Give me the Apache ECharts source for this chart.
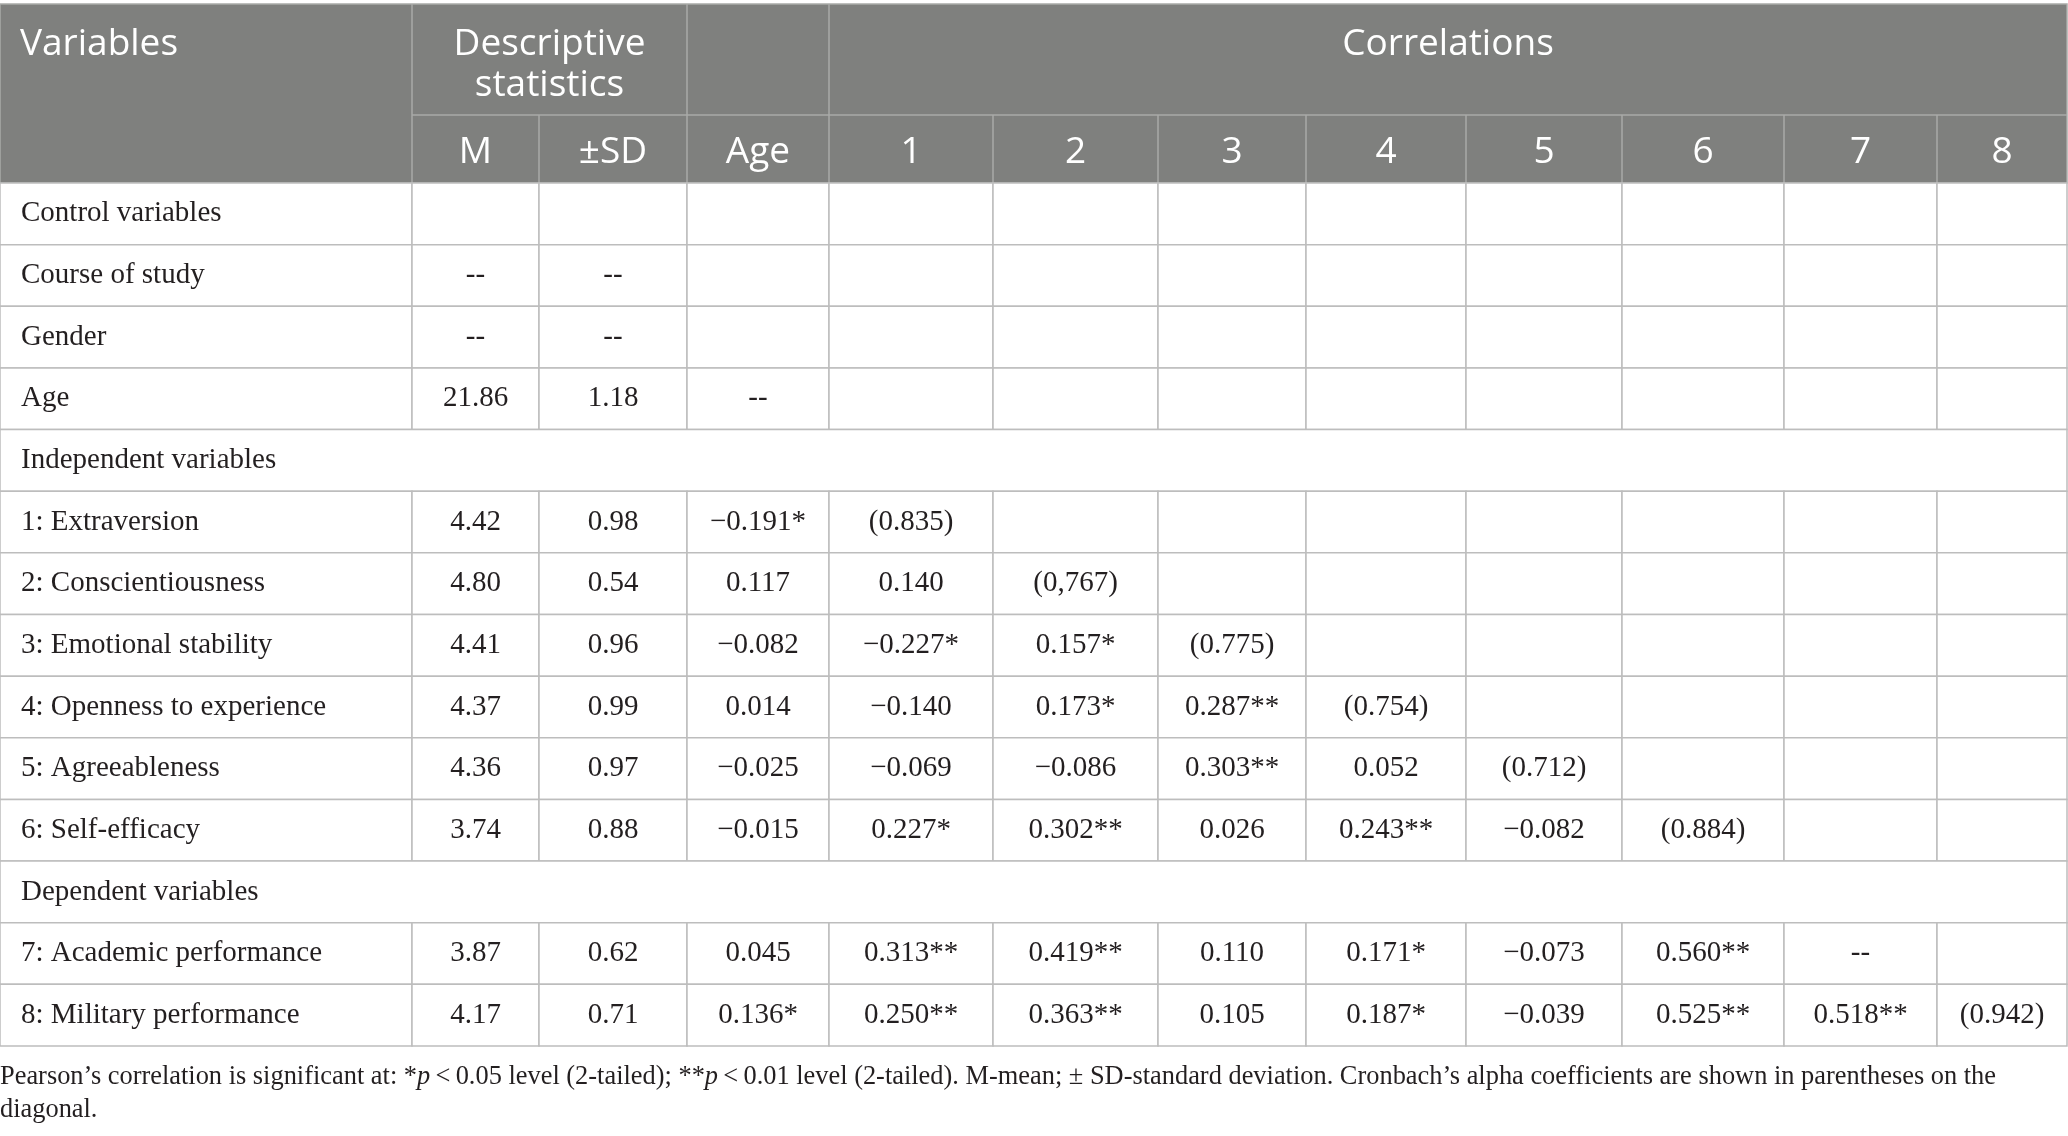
<!DOCTYPE html>
<html>
<head>
<meta charset="utf-8">
<title>Descriptive statistics and correlations</title>
<script src="https://cdn.jsdelivr.net/npm/echarts@6/dist/echarts.min.js"></script>
<style>
html, body { margin: 0; padding: 0; background: #fff; }
#main { width: 2068px; height: 1136px; }
</style>
</head>
<body>
<div id="main"></div>
<script>
// 表格数据
var rowNames = ['Control variables', 'Course of study', 'Gender', 'Age', 'Independent variables',
    '1: Extraversion', '2: Conscientiousness', '3: Emotional stability', '4: Openness to experience',
    '5: Agreeableness', '6: Self-efficacy', 'Dependent variables', '7: Academic performance',
    '8: Military performance'];
var sectionRows = ['Independent variables', 'Dependent variables'];
var meanVals = ['', '--', '--', '21.86', '', '4.42', '4.80', '4.41', '4.37', '4.36', '3.74', '', '3.87', '4.17'];
var sdVals = ['', '--', '--', '1.18', '', '0.98', '0.54', '0.96', '0.99', '0.97', '0.88', '', '0.62', '0.71'];
var ageCorr = ['', '', '', '--', '', '\u22120.191*', '0.117', '\u22120.082', '0.014', '\u22120.025', '\u22120.015', '', '0.045', '0.136*'];
var corrRows = [
    [], [], [], [], [],
    ['(0.835)'],
    ['0.140', '(0,767)'],
    ['\u22120.227*', '0.157*', '(0.775)'],
    ['\u22120.140', '0.173*', '0.287**', '(0.754)'],
    ['\u22120.069', '\u22120.086', '0.303**', '0.052', '(0.712)'],
    ['0.227*', '0.302**', '0.026', '0.243**', '\u22120.082', '(0.884)'],
    [],
    ['0.313**', '0.419**', '0.110', '0.171*', '\u22120.073', '0.560**', '--'],
    ['0.250**', '0.363**', '0.105', '0.187*', '\u22120.039', '0.525**', '0.518**', '(0.942)']
];
var groupHeads = ['Variables', 'Descriptive\nstatistics', 'Correlations'];
var subHeads = ['M', '\u00b1SD', 'Age', '1', '2', '3', '4', '5', '6', '7', '8'];
var footNote = 'Pearson\u2019s correlation is significant at: *{i|p}\u2009<\u20090.05 level (2-tailed); **{i|p}\u2009<\u20090.01 level (2-tailed). M-mean; \u00b1 SD-standard deviation. Cronbach\u2019s alpha coefficients are shown in parentheses on the\ndiagonal.';

// 版式
var colEdges = [0, 412, 539, 687, 829, 993, 1158, 1306, 1466, 1622, 1784, 1937, 2067];
var tableW = 2067;
var headH = 179, headSplit = 111;
var headBg = '#7f807e', headLine = '#a9aaa8', bodyLine = '#bdbdbd', ink = '#231f20';
var sansFont = '37px "Open Sans"';
var serifFont = '29px "Liberation Serif"';

function txt(x, y, s, font, color, align) {
    return {
        type: 'text', x: x, y: y, silent: true,
        style: { text: s, font: font, fill: color, textAlign: align || 'center', textVerticalAlign: 'middle' }
    };
}
function line(x1, y1, x2, y2, color) {
    return { type: 'line', shape: { x1: x1, y1: y1, x2: x2, y2: y2 }, style: { stroke: color, lineWidth: 1.5 } };
}

/* 表头 */
function renderHead(params, api) {
    var p = function (x, y) { return api.coord([x, y]); };
    var a = p(0, 0), b = p(tableW, headH);
    var ch = [];
    ch.push({ type: 'rect', shape: { x: a[0], y: a[1], width: b[0] - a[0], height: b[1] - a[1] },
        style: { fill: headBg, stroke: headLine, lineWidth: 1.5 } });
    ch.push(line(p(colEdges[1], headSplit)[0], p(0, headSplit)[1], b[0], p(0, headSplit)[1], headLine));
    [1, 3, 4].forEach(function (k) {
        ch.push(line(p(colEdges[k], 0)[0], a[1], p(colEdges[k], 0)[0], b[1], headLine));
    });
    colEdges.slice(2, colEdges.length - 1).forEach(function (e, k) {
        if (k + 2 === 3 || k + 2 === 4) return;
        ch.push(line(p(e, 0)[0], p(0, headSplit)[1], p(e, 0)[0], b[1], headLine));
    });
    ch.push(txt(p(20, 0)[0], p(0, 40)[1], groupHeads[0], sansFont, '#fff', 'left'));
    var dl = groupHeads[1].split('\n');
    var dx = p((colEdges[1] + colEdges[3]) / 2, 0)[0];
    ch.push(txt(dx, p(0, 40)[1], dl[0], sansFont, '#fff'));
    ch.push(txt(dx, p(0, 81)[1], dl[1], sansFont, '#fff'));
    ch.push(txt(p((colEdges[4] + tableW) / 2, 0)[0], p(0, 40)[1], groupHeads[2], sansFont, '#fff'));
    subHeads.forEach(function (s, j) {
        var cx = p((colEdges[j + 1] + colEdges[j + 2]) / 2, 0)[0];
        ch.push(txt(cx, p(0, 148)[1], s, sansFont, '#fff'));
    });
    return { type: 'group', children: ch };
}

/* 表体 */
function renderBody(params, api) {
    var i = api.value(1);
    var cy = api.coord([0, i])[1];
    var h = api.size([0, 1])[1];
    var y0 = cy - h / 2;
    var X = function (v) { return api.coord([v, i])[0]; };
    var ch = [];
    var isSection = sectionRows.indexOf(rowNames[i]) >= 0;
    var cellStyle = { fill: '#fff', stroke: bodyLine, lineWidth: 1.5 };
    if (isSection) {
        ch.push({ type: 'rect', shape: { x: X(0), y: y0, width: X(tableW) - X(0), height: h }, style: cellStyle });
    } else {
        for (var k = 0; k < colEdges.length - 1; k++) {
            ch.push({ type: 'rect', shape: { x: X(colEdges[k]), y: y0, width: X(colEdges[k + 1]) - X(colEdges[k]), height: h },
                style: cellStyle });
        }
    }
    ch.push(txt(X(21), cy, rowNames[i], serifFont, ink, 'left'));
    if (!isSection) {
        var cells = [meanVals[i], sdVals[i], ageCorr[i]].concat(corrRows[i]);
        cells.forEach(function (s, j) {
            if (!s) return;
            ch.push(txt(X((colEdges[j + 1] + colEdges[j + 2]) / 2), cy, s, serifFont, ink));
        });
    }
    return { type: 'group', children: ch };
}

var myChart = echarts.init(document.getElementById('main'));
var option = {
    animation: false,
    backgroundColor: '#fff',
    title: {
        text: footNote,
        left: 0,
        top: 1061,
        padding: 0,
        textStyle: {
            fontFamily: 'Liberation Serif',
            fontSize: 26.4,
            fontWeight: 'normal',
            color: ink,
            lineHeight: 33,
            rich: {
                i: { fontFamily: 'Liberation Serif', fontStyle: 'italic', fontSize: 26.4, color: ink, lineHeight: 33 }
            }
        }
    },
    grid: [
        { left: 0, top: 4, width: tableW, height: headH },
        { left: 0, top: 183, width: tableW, height: 863 }
    ],
    xAxis: [
        { type: 'value', gridIndex: 0, min: 0, max: tableW, show: false },
        { type: 'value', gridIndex: 1, min: 0, max: tableW, show: false }
    ],
    yAxis: [
        { type: 'value', gridIndex: 0, min: 0, max: headH, inverse: true, show: false },
        { type: 'category', gridIndex: 1, data: rowNames, inverse: true, show: false }
    ],
    series: [
        {
            type: 'custom', xAxisIndex: 0, yAxisIndex: 0,
            renderItem: renderHead,
            data: [[0, 0]],
            silent: true
        },
        {
            type: 'custom', xAxisIndex: 1, yAxisIndex: 1,
            renderItem: renderBody,
            encode: { x: 0, y: 1 },
            data: rowNames.map(function (n, i) { return [0, i]; }),
            silent: true
        }
    ]
};
myChart.setOption(option);
</script>
</body>
</html>
